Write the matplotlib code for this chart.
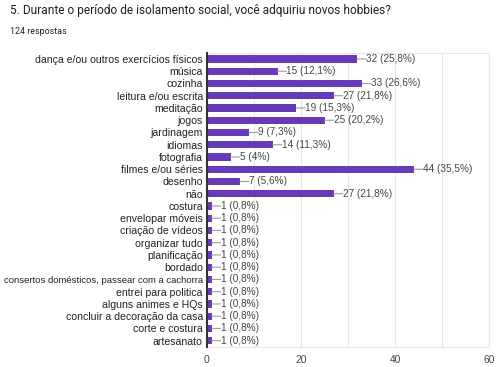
import numpy as np
import matplotlib.pyplot as plt

categories = [
    'dança e/ou outros exercícios físicos', 'música', 'cozinha',
    'leitura e/ou escrita', 'meditação', 'jogos', 'jardinagem', 'idiomas',
    'fotografia', 'filmes e/ou séries', 'desenho', 'não', 'costura',
    'envelopar móveis', 'criação de vídeos', 'organizar tudo',
    'planificação', 'bordado', 'consertos domésticos, passear com a cachorra',
    'entrei para politica', 'alguns animes e HQs',
    'concluir a decoração da casa', 'corte e costura', 'artesanato'
]
counts = [32, 15, 33, 27, 19, 25, 9, 14, 5, 44, 7, 27,
          1, 1, 1, 1, 1, 1, 1, 1, 1, 1, 1, 1]
percents = ['25,8%', '12,1%', '26,6%', '21,8%', '15,3%', '20,2%', '7,3%',
            '11,3%', '4%', '35,5%', '5,6%', '21,8%'] + ['0,8%'] * 12
xticks = [0, 20, 40, 60]

plt.rcParams['font.family'] = ['Liberation Sans', 'DejaVu Sans']

fig = plt.figure(figsize=(5, 3.67), dpi=100)
ax = fig.add_axes([0.414, 0.055, 0.564, 0.801])

y = np.arange(len(categories))
ax.barh(y, counts, height=0.6, color='#673ab7', zorder=3)

for i, (c, p) in enumerate(zip(counts, percents)):
    ax.annotate(f'{c} ({p})', xy=(c, i), xytext=(9, 0),
                textcoords='offset pixels', va='center', ha='left',
                fontsize=7.2, color='#444444',
                arrowprops=dict(arrowstyle='-', color='#9e9e9e', lw=0.8,
                                shrinkA=0, shrinkB=0, relpos=(0, 0.5),
                                patchA=None))

ax.set_xlim(0, 60)
ax.set_ylim(len(categories) - 0.5, -0.5)
ax.set_xticks(xticks)
ax.set_xticks(np.arange(0, 61, 10), minor=True)
ax.grid(axis='x', which='both', color='#e6e6e6', lw=0.8, zorder=0)
ax.set_yticks(y)
ax.set_yticklabels(categories, fontsize=7.6, color='#222222')
ax.get_yticklabels()[18].set_fontsize(6.8)
ax.tick_params(axis='y', length=0, pad=3)
ax.tick_params(axis='x', which='both', length=0, pad=6, labelsize=7.4,
               labelcolor='#444444')

for s in ['top', 'bottom', 'right']:
    ax.spines[s].set_color('#e6e6e6')
    ax.spines[s].set_linewidth(0.8)
ax.spines['left'].set_color('#333333')
ax.spines['left'].set_linewidth(1.5)
ax.spines['left'].set_zorder(4)

fig.text(0.02, 0.972, '5. Durante o período de isolamento social, você adquiriu novos hobbies?',
         fontsize=8.6, family=['Roboto', 'DejaVu Sans'], color='#202124', va='center')
fig.text(0.02, 0.915, '124 respostas', fontsize=6.4,
         family=['Roboto', 'DejaVu Sans'], color='#202124', va='center')

fig.savefig('out.png', dpi=100)
